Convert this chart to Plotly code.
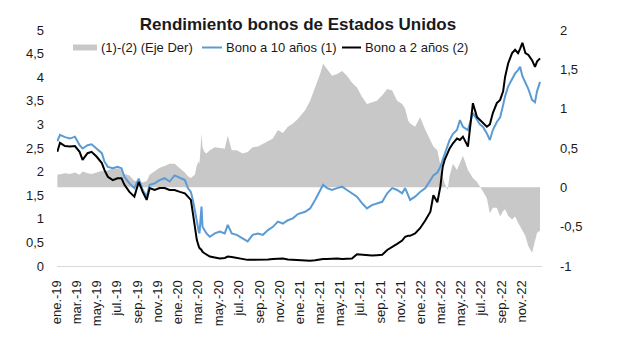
import plotly.graph_objects as go

# ---------------- data ----------------
dates = [
    "2019-01-02", "2019-01-10", "2019-01-25", "2019-02-09", "2019-02-24", "2019-03-10", "2019-03-19", "2019-04-03", "2019-04-15", "2019-04-30",
    "2019-05-16", "2019-05-24", "2019-06-03", "2019-06-18", "2019-07-02", "2019-07-14", "2019-07-23", "2019-08-07", "2019-08-22", "2019-09-04",
    "2019-09-16", "2019-09-28", "2019-10-07", "2019-10-22", "2019-11-06", "2019-11-21", "2019-12-06", "2019-12-21", "2020-01-06", "2020-01-21",
    "2020-01-30", "2020-02-08", "2020-02-14", "2020-02-20", "2020-02-26", "2020-03-03", "2020-03-05", "2020-03-11", "2020-03-14", "2020-03-20",
    "2020-03-26", "2020-04-05", "2020-04-20", "2020-05-05", "2020-05-20", "2020-05-29", "2020-06-10", "2020-06-25", "2020-07-13", "2020-07-28",
    "2020-08-12", "2020-08-28", "2020-09-12", "2020-09-27", "2020-10-12", "2020-10-27", "2020-11-11", "2020-11-26", "2020-12-11", "2020-12-26",
    "2021-01-17", "2021-02-01", "2021-02-16", "2021-03-03", "2021-03-12", "2021-03-24", "2021-04-08", "2021-04-23", "2021-05-08", "2021-05-23",
    "2021-06-07", "2021-06-22", "2021-07-07", "2021-07-22", "2021-08-06", "2021-08-21", "2021-09-06", "2021-09-21", "2021-10-06", "2021-10-21",
    "2021-11-05", "2021-11-14", "2021-11-23", "2021-11-29", "2021-12-14", "2021-12-29", "2022-01-14", "2022-01-29", "2022-02-07", "2022-02-19",
    "2022-02-28", "2022-03-07", "2022-03-13", "2022-03-22", "2022-03-28", "2022-04-07", "2022-04-19", "2022-04-28", "2022-05-07", "2022-05-22",
    "2022-06-06", "2022-06-18", "2022-06-27", "2022-07-06", "2022-07-18", "2022-07-27", "2022-08-05", "2022-08-17", "2022-08-27", "2022-09-05",
    "2022-09-11", "2022-09-20", "2022-10-02", "2022-10-11", "2022-10-20", "2022-10-26", "2022-11-02", "2022-11-11", "2022-11-20", "2022-12-01",
    "2022-12-10", "2022-12-16", "2022-12-25",
]

bono_10 = [
    2.64, 2.78, 2.73, 2.70, 2.74, 2.56, 2.49, 2.56, 2.58, 2.49,
    2.39, 2.21, 2.10, 2.07, 2.10, 2.07, 1.89, 1.75, 1.65, 1.85,
    1.61, 1.47, 1.72, 1.75, 1.82, 1.86, 1.79, 1.92, 1.86, 1.82,
    1.65, 1.57, 1.40, 1.15, 0.97, 0.72, 0.69, 1.26, 0.83, 0.75,
    0.69, 0.62, 0.69, 0.73, 0.69, 0.87, 0.69, 0.66, 0.59, 0.52,
    0.66, 0.69, 0.66, 0.76, 0.83, 0.94, 0.90, 0.97, 1.01, 1.10,
    1.15, 1.22, 1.40, 1.61, 1.72, 1.65, 1.61, 1.65, 1.68, 1.61,
    1.54, 1.47, 1.33, 1.22, 1.29, 1.33, 1.36, 1.54, 1.65, 1.61,
    1.54, 1.65, 1.50, 1.40, 1.47, 1.57, 1.65, 1.82, 1.92, 1.98,
    2.10, 2.25, 2.39, 2.55, 2.67, 2.80, 2.88, 3.09, 2.95, 2.88,
    3.24, 3.09, 3.00, 2.95, 2.81, 2.67, 2.88, 3.05, 3.15, 3.41,
    3.60, 3.80, 3.98, 4.08, 4.15, 4.22, 4.02, 3.90, 3.75, 3.52,
    3.47, 3.70, 3.90,
]

bono_2 = [
    2.42, 2.61, 2.54, 2.53, 2.54, 2.42, 2.25, 2.39, 2.42, 2.32,
    2.18, 2.03, 1.89, 1.82, 1.86, 1.86, 1.72, 1.57, 1.47, 1.78,
    1.57, 1.40, 1.65, 1.61, 1.65, 1.65, 1.61, 1.61, 1.57, 1.54,
    1.47, 1.40, 1.12, 0.83, 0.55, 0.41, 0.38, 0.34, 0.30, 0.27,
    0.24, 0.20, 0.18, 0.16, 0.17, 0.20, 0.19, 0.17, 0.14, 0.13,
    0.13, 0.13, 0.13, 0.14, 0.15, 0.15, 0.16, 0.14, 0.13, 0.13,
    0.12, 0.11, 0.12, 0.14, 0.15, 0.15, 0.16, 0.16, 0.15, 0.15,
    0.16, 0.25, 0.24, 0.22, 0.22, 0.23, 0.24, 0.34, 0.40, 0.47,
    0.54, 0.62, 0.64, 0.64, 0.69, 0.80, 0.97, 1.15, 1.50, 1.35,
    1.68, 2.10, 2.25, 2.40, 2.49, 2.60, 2.70, 2.67, 2.74, 2.53,
    3.45, 3.16, 3.09, 3.02, 2.95, 3.00, 3.24, 3.45, 3.52, 3.70,
    4.01, 4.29, 4.51, 4.58, 4.51, 4.60, 4.73, 4.51, 4.47, 4.36,
    4.22, 4.33, 4.40,
]

diferencial = [
    0.16, 0.17, 0.18, 0.17, 0.19, 0.16, 0.20, 0.18, 0.17, 0.19,
    0.21, 0.20, 0.22, 0.24, 0.24, 0.22, 0.17, 0.15, 0.08, 0.08,
    0.06, 0.08, 0.16, 0.20, 0.25, 0.27, 0.30, 0.30, 0.24, 0.19,
    0.14, 0.12, 0.14, 0.16, 0.28, 0.33, 0.30, 0.68, 0.51, 0.45,
    0.43, 0.47, 0.51, 0.50, 0.49, 0.66, 0.47, 0.47, 0.43, 0.45,
    0.51, 0.52, 0.55, 0.58, 0.62, 0.73, 0.69, 0.77, 0.81, 0.87,
    0.98, 1.10, 1.27, 1.44, 1.57, 1.50, 1.42, 1.44, 1.48, 1.42,
    1.33, 1.27, 1.15, 1.06, 1.08, 1.10, 1.17, 1.25, 1.23, 1.10,
    1.06, 1.00, 0.85, 0.81, 0.77, 0.89, 0.73, 0.60, 0.52, 0.47,
    0.26, 0.14, 0.05, -0.03, 0.15, 0.30, 0.22, 0.32, 0.40, 0.22,
    0.12, 0.07, 0.00, -0.05, -0.14, -0.33, -0.26, -0.26, -0.37, -0.30,
    -0.28, -0.36, -0.41, -0.37, -0.45, -0.49, -0.55, -0.62, -0.75, -0.83,
    -0.66, -0.58, -0.55,
]

x_tick_dates = [
    "2019-01-01", "2019-03-01", "2019-05-01", "2019-07-01", "2019-09-01", "2019-11-01",
    "2020-01-01", "2020-03-01", "2020-05-01", "2020-07-01", "2020-09-01", "2020-11-01",
    "2021-01-01", "2021-03-01", "2021-05-01", "2021-07-01", "2021-09-01", "2021-11-01",
    "2022-01-01", "2022-03-01", "2022-05-01", "2022-07-01", "2022-09-01", "2022-11-01",
]
x_tick_labels = [
    "ene.-19", "mar.-19", "may.-19", "jul.-19", "sep.-19", "nov.-19",
    "ene.-20", "mar.-20", "may.-20", "jul.-20", "sep.-20", "nov.-20",
    "ene.-21", "mar.-21", "may.-21", "jul.-21", "sep.-21", "nov.-21",
    "ene.-22", "mar.-22", "may.-22", "jul.-22", "sep.-22", "nov.-22",
]
left_tick_vals = [0, 0.5, 1, 1.5, 2, 2.5, 3, 3.5, 4, 4.5, 5]
left_tick_labels = ["0", "0,5", "1", "1,5", "2", "2,5", "3", "3,5", "4", "4,5", "5"]
right_tick_vals = [-1, -0.5, 0, 0.5, 1, 1.5, 2]
right_tick_labels = ["-1", "-0,5", "0", "0,5", "1", "1,5", "2"]

title_text = "Rendimiento bonos de Estados Unidos"
legend_labels = ["(1)-(2) (Eje Der)", "Bono a 10 años (1)", "Bono a 2 años (2)"]

# ---------------- styling ----------------
FONT = "Liberation Sans, Arial, Helvetica, sans-serif"
GRAY = "#c8c8c8"
BLUE = "#5b9bd5"
BLACK = "#000000"
TXT = "#1a1a1a"

W, H = 617, 356
ML, MR, MT, MB = 57, 75, 30, 90
PW, PH = W - ML - MR, H - MT - MB


def px_x(px):
    return (px - ML) / PW


def px_y(py):
    return (H - MB - py) / PH


fig = go.Figure()

# spread area on the base (right-side) axis so the lines are drawn above it
fig.add_trace(go.Scatter(
    x=dates, y=diferencial, name=legend_labels[0], mode="lines",
    line=dict(width=0, color=GRAY), fill="tozeroy", fillcolor=GRAY,
    xaxis="x", yaxis="y", showlegend=False, hoverinfo="skip",
))
fig.add_trace(go.Scatter(
    x=dates, y=bono_10, name=legend_labels[1], mode="lines",
    line=dict(width=2, color=BLUE), xaxis="x", yaxis="y2", showlegend=False,
))
fig.add_trace(go.Scatter(
    x=dates, y=bono_2, name=legend_labels[2], mode="lines",
    line=dict(width=2, color=BLACK), xaxis="x", yaxis="y2", showlegend=False,
))

tickfont = dict(family=FONT, size=13, color=TXT)

# hand-built legend (short swatches as in the reference)
leg_y = 47.5
shapes = [
    dict(type="rect", xref="paper", yref="paper",
         x0=px_x(73), x1=px_x(97), y0=px_y(leg_y + 3), y1=px_y(leg_y - 3),
         fillcolor=GRAY, line=dict(width=0)),
    dict(type="line", xref="paper", yref="paper",
         x0=px_x(202), x1=px_x(222), y0=px_y(leg_y), y1=px_y(leg_y),
         line=dict(color=BLUE, width=2)),
    dict(type="line", xref="paper", yref="paper",
         x0=px_x(342), x1=px_x(361), y0=px_y(leg_y), y1=px_y(leg_y),
         line=dict(color=BLACK, width=2)),
]
annotations = []
for lbl, xpx in zip(legend_labels, [99, 224, 363]):
    annotations.append(dict(
        text=lbl, xref="paper", yref="paper", x=px_x(xpx), y=px_y(leg_y),
        xanchor="left", yanchor="middle", showarrow=False,
        font=dict(family=FONT, size=13, color=TXT),
    ))

fig.update_layout(
    width=W, height=H,
    margin=dict(l=ML, r=MR, t=MT, b=MB, pad=0),
    paper_bgcolor="white", plot_bgcolor="white",
    showlegend=False,
    title=dict(
        text="<b>" + title_text + "</b>",
        x=298 / W, xref="container", xanchor="center",
        y=1 - 24 / H, yref="container", yanchor="middle",
        font=dict(family=FONT, size=17, color=TXT),
    ),
    xaxis=dict(
        type="date", range=["2019-01-01", "2022-12-31"],
        tickmode="array", tickvals=x_tick_dates, ticktext=x_tick_labels,
        tickangle=-90, tickfont=tickfont, ticks="", ticklabelstandoff=8,
        showgrid=False, zeroline=False,
        showline=True, linecolor="#d9d9d9", linewidth=1,
    ),
    yaxis=dict(
        side="right", range=[-1, 2],
        tickmode="array", tickvals=right_tick_vals, ticktext=right_tick_labels,
        tickfont=tickfont, ticks="", ticklabelstandoff=17,
        showgrid=False, zeroline=False, showline=False,
    ),
    yaxis2=dict(
        overlaying="y", side="left", range=[0, 5],
        tickmode="array", tickvals=left_tick_vals, ticktext=left_tick_labels,
        tickfont=tickfont, ticks="", ticklabelstandoff=12,
        showgrid=False, zeroline=False, showline=False,
    ),
    shapes=shapes,
    annotations=annotations,
)

fig.write_html(
    "out.html",
    config={"displayModeBar": False},
    post_script="document.body.style.margin='0';document.body.style.overflow='hidden';",
)
